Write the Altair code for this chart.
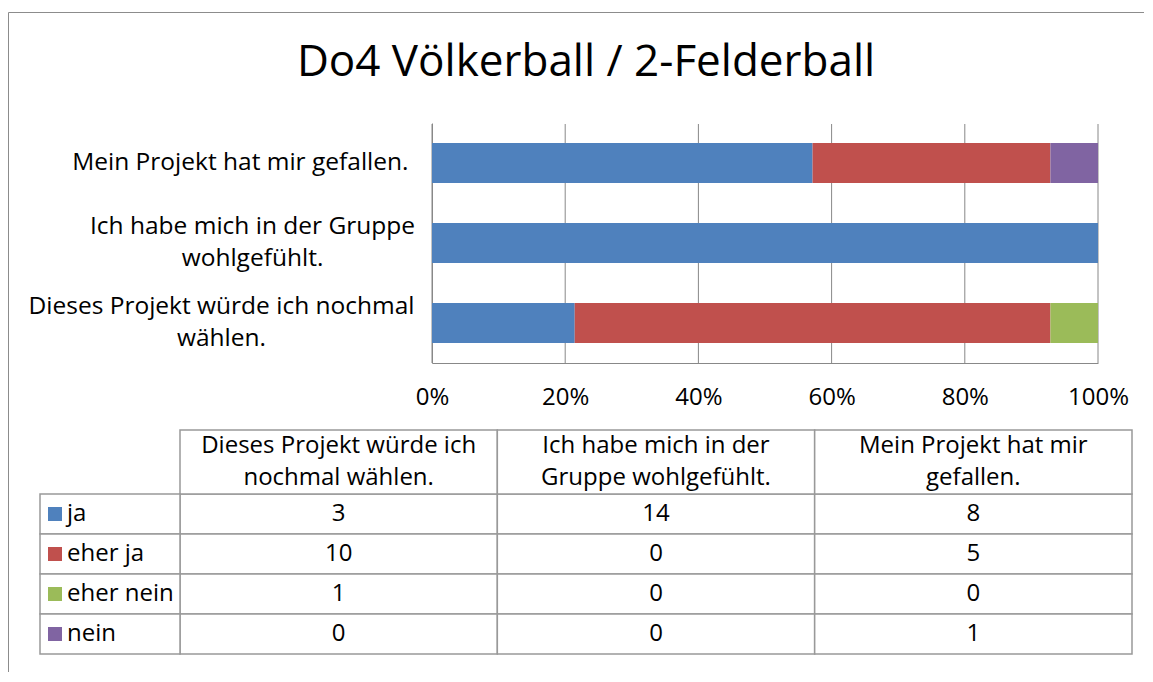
import altair as alt
import pandas as pd

# ---------------- data ----------------
title_text = "Do4 Völkerball / 2-Felderball"
questions = [
    "Dieses Projekt würde ich nochmal wählen.",
    "Ich habe mich in der Gruppe wohlgefühlt.",
    "Mein Projekt hat mir gefallen.",
]
axis_labels = [
    "Dieses Projekt würde ich nochmal|wählen.",
    "Ich habe mich in der Gruppe|wohlgefühlt.",
    "Mein Projekt hat mir gefallen.",
]
header_labels = [
    "Dieses Projekt würde ich|nochmal wählen.",
    "Ich habe mich in der|Gruppe wohlgefühlt.",
    "Mein Projekt hat mir|gefallen.",
]
responses = ["ja", "eher ja", "eher nein", "nein"]
ja = [3, 14, 8]
eher_ja = [10, 0, 5]
eher_nein = [1, 0, 0]
nein = [0, 0, 1]
colors = ["#4F81BD", "#C0504D", "#9BBB59", "#8064A2"]
tick_values = [0, 0.2, 0.4, 0.6, 0.8, 1.0]

# ---------------- styles ----------------
FONT = "Open Sans"
FS = 24
AXFS = 24.5
GRID = "#888888"
BORDER = "#999999"

rows = []
for ri, (resp, vals) in enumerate(zip(responses, [ja, eher_ja, eher_nein, nein])):
    for qi, q in enumerate(questions):
        rows.append(dict(question=q, axis_label=axis_labels[qi], header=header_labels[qi],
                         response=resp, order=ri, count=vals[qi]))
df = pd.DataFrame(rows)
head_df = pd.DataFrame({"question": questions, "header": header_labels})
resp_df = pd.DataFrame({"response": responses})
grid_df = pd.DataFrame({"tick": tick_values})

color_scale = alt.Scale(domain=responses, range=colors)
bar_x_scale = dict(domain=[0, 1], range=[424, 1090])

# gridlines
grid = alt.Chart(grid_df).mark_rule(color=GRID, strokeWidth=1).encode(
    x=alt.X("tick:Q", scale=alt.Scale(**bar_x_scale), axis=None),
    y=alt.YDatum(0, type="quantitative", scale=alt.Scale(domain=[0, 1], range=[351, 112]), axis=None),
    y2=alt.Y2Datum(1),
)

multi = "indexof(datum.value, '|') >= 0"

# bars
bars = alt.Chart(df).mark_bar().encode(
    x=alt.X("count:Q", stack="normalize", scale=alt.Scale(**bar_x_scale),
            axis=alt.Axis(orient="bottom", format="%", values=tick_values, grid=False, ticks=False,
                          tickSize=0, domainColor=GRID, domainWidth=1, labelFont=FONT, labelFontSize=FS,
                          labelColor="black", labelPadding=22, labelFlush=False, offset=-309, title=None)),
    y=alt.Y("axis_label:N",
            scale=alt.Scale(domain=axis_labels[::-1], range=[111, 351], paddingInner=0.5, paddingOuter=0.25),
            axis=alt.Axis(orient="left", title=None, ticks=False, tickSize=0, domainColor=GRID, domainWidth=1,
                          labelExpr="split(datum.label, '|')", labelFont=FONT, labelFontSize=AXFS,
                          labelColor="black", labelLineHeight=32, labelLimit=0, offset=-424,
                          labelAlign={"condition": {"test": multi, "value": "center"}, "value": "right"},
                          labelOffset={"condition": {"test": multi, "value": -16}, "value": 0},
                          labelPadding={"condition": [
                              {"test": "indexof(datum.value, 'Dieses') >= 0", "value": 211},
                              {"test": "indexof(datum.value, 'Gruppe') >= 0", "value": 180}],
                              "value": 24})),
    color=alt.Color("response:N", scale=color_scale, legend=None),
    order=alt.Order("order:Q"),
)

# table scales
col_scale = alt.Scale(domain=questions, range=[172, 1124], paddingInner=0, paddingOuter=0)
row_scale = alt.Scale(domain=responses, range=[482, 642], paddingInner=0, paddingOuter=0)
head_scale = alt.Scale(domain=["head"], range=[418, 482], paddingInner=0, paddingOuter=0)
label_scale = alt.Scale(domain=["label"], range=[32, 172], paddingInner=0, paddingOuter=0)
swatch_scale = alt.Scale(domain=["label"], range=[40, 54], paddingInner=0, paddingOuter=0)
labeltext_scale = alt.Scale(domain=["label"], range=[51, 67], paddingInner=0, paddingOuter=0)

cell_rects = alt.Chart(df).mark_rect(fill="white", stroke=BORDER, strokeWidth=1.5).encode(
    x=alt.X("question:N", scale=col_scale, axis=None),
    y=alt.Y("response:N", scale=row_scale, axis=None),
)
cell_text = alt.Chart(df).mark_text(font=FONT, fontSize=FS, color="black", baseline="middle").encode(
    x=alt.X("question:N", scale=col_scale, axis=None),
    y=alt.Y("response:N", scale=row_scale, axis=None),
    text=alt.Text("count:Q"),
)
head_rects = alt.Chart(head_df).transform_calculate(row="'head'").mark_rect(
    fill="white", stroke=BORDER, strokeWidth=1.5).encode(
    x=alt.X("question:N", scale=col_scale, axis=None),
    y=alt.Y("row:N", scale=head_scale, axis=None),
)
head_text = alt.Chart(head_df).transform_calculate(row="'head'").mark_text(
    font=FONT, fontSize=FS, color="black", baseline="middle", lineBreak="|", lineHeight=32, dy=-16).encode(
    x=alt.X("question:N", scale=col_scale, axis=None),
    y=alt.Y("row:N", scale=head_scale, axis=None),
    text="header:N",
)
label_rects = alt.Chart(resp_df).transform_calculate(col="'label'").mark_rect(
    fill="white", stroke=BORDER, strokeWidth=1.5).encode(
    x=alt.X("col:N", scale=label_scale, axis=None),
    y=alt.Y("response:N", scale=row_scale, axis=None),
)
swatches = alt.Chart(resp_df).transform_calculate(col="'label'").mark_square(size=196, opacity=1).encode(
    x=alt.X("col:N", scale=swatch_scale, axis=None),
    y=alt.Y("response:N", scale=row_scale, axis=None),
    color=alt.Color("response:N", scale=color_scale, legend=None),
)
label_text = alt.Chart(resp_df).transform_calculate(col="'label'").mark_text(
    font=FONT, fontSize=FS, color="black", align="left", baseline="middle").encode(
    x=alt.X("col:N", scale=labeltext_scale, axis=None),
    y=alt.Y("response:N", scale=row_scale, axis=None),
    text="response:N",
)

chart = alt.layer(
    grid, bars, cell_rects, head_rects, label_rects, cell_text, head_text, swatches, label_text
).resolve_scale(x="independent", y="independent").properties(
    width=1136, height=660,
    padding={"left": 0, "top": 4, "right": 0, "bottom": 0},
    autosize=alt.AutoSizeParams(type="none"),
    title=alt.Title(title_text, fontSize=44, font=FONT, fontWeight="normal", color="black",
                    anchor="middle", frame="group", baseline="alphabetic", offset=-66, dx=10, dy=42),
).configure_view(stroke="#8c8c8c", strokeWidth=1)

chart.save("out.html", embed_options={"renderer": "svg", "actions": False})
